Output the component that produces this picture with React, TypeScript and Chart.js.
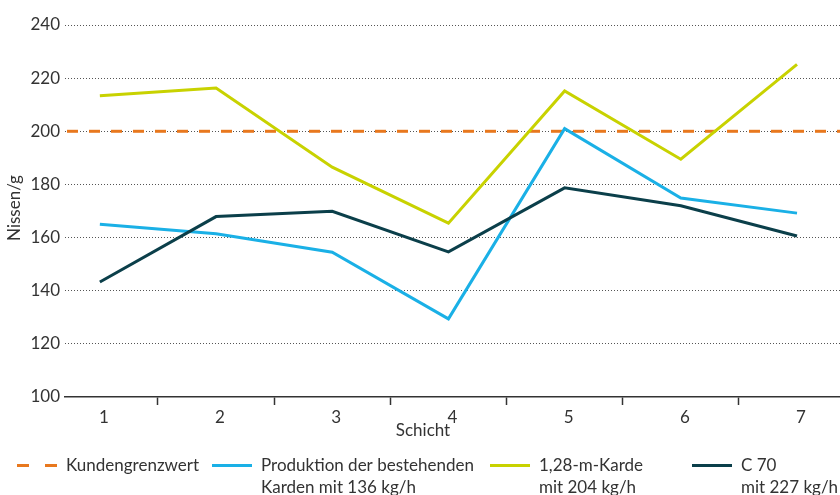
import React, { useEffect, useRef } from "react";
import { Chart, registerables } from "chart.js";

Chart.register(...registerables);

const SHIFTS = [1, 2, 3, 4, 5, 6, 7];
const PRODUKTION = [165, 161.4, 154.5, 129.4, 201, 174.9, 169.2];
const KARDE_128 = [213.4, 216.3, 186.5, 165.4, 215.2, 189.5, 225.2];
const C70 = [143.3, 167.9, 169.9, 154.6, 178.7, 172, 160.6];
const KUNDENGRENZWERT = 200;
const Y_TICKS = [100, 120, 140, 160, 180, 200, 220, 240];
const X_TITLE = "Schicht";
const Y_TITLE = "Nissen/g";
const LEGEND_LABELS = [
  ["Kundengrenzwert"],
  ["Produktion der bestehenden", "Karden mit 136 kg/h"],
  ["1,28-m-Karde", "mit 204 kg/h"],
  ["C 70", "mit 227 kg/h"],
];

const ORANGE = "#E8781E";
const BLUE = "#1AB0E6";
const YELLOW = "#C8D200";
const DARK = "#0B3F4A";
const TEXT = "#333333";
const FONT = "Lato";

export default function App() {
  const ref = useRef<HTMLCanvasElement>(null);

  useEffect(() => {
    document.body.style.margin = "0";
    const canvas = ref.current;
    if (!canvas) return;

    const limitPlugin = {
      id: "limitLine",
      beforeDatasetsDraw(chart: any) {
        const { ctx, chartArea, scales } = chart;
        const y = scales.y.getPixelForValue(KUNDENGRENZWERT);
        ctx.save();
        ctx.strokeStyle = ORANGE;
        ctx.lineWidth = 3;
        ctx.setLineDash([11, 11]);
        ctx.beginPath();
        ctx.moveTo(chartArea.left + 2, y);
        ctx.lineTo(chartArea.right, y);
        ctx.stroke();
        ctx.restore();
      },
    };

    const decorPlugin = {
      id: "decor",
      afterDraw(chart: any) {
        const { ctx } = chart;
        ctx.save();
        ctx.fillStyle = TEXT;
        ctx.font = `17px ${FONT}`;
        ctx.textAlign = "center";
        ctx.textBaseline = "middle";
        ctx.fillText(X_TITLE, 423, 431);
        ctx.save();
        ctx.translate(15, 208);
        ctx.rotate(-Math.PI / 2);
        ctx.fillText(Y_TITLE, 0, 0);
        ctx.restore();

        const colors = [ORANGE, BLUE, YELLOW, DARK];
        const starts = [17, 212, 490, 692];
        const ly = 465.5;
        LEGEND_LABELS.forEach((lines, i) => {
          const x0 = starts[i];
          ctx.strokeStyle = colors[i];
          ctx.lineWidth = 3;
          ctx.setLineDash(i === 0 ? [12, 16] : []);
          ctx.beginPath();
          ctx.moveTo(x0, ly);
          ctx.lineTo(x0 + 40, ly);
          ctx.stroke();
          ctx.setLineDash([]);
          ctx.textAlign = "left";
          lines.forEach((t, j) => {
            ctx.fillText(t, x0 + 49, ly + j * 22);
          });
        });
        ctx.restore();
      },
    };

    const toPts = (vals: number[]) => SHIFTS.map((s, i) => ({ x: s, y: vals[i] }));

    const chart = new Chart(canvas, {
      type: "line",
      data: {
        datasets: [
          { label: "C 70", data: toPts(C70), borderColor: DARK },
          { label: "1,28-m-Karde", data: toPts(KARDE_128), borderColor: YELLOW },
          { label: "Produktion", data: toPts(PRODUKTION), borderColor: BLUE },
        ].map((d) => ({
          ...d,
          borderWidth: 3,
          pointRadius: 0,
          tension: 0,
          fill: false,
        })),
      },
      options: {
        animation: false,
        responsive: true,
        maintainAspectRatio: false,
        layout: { padding: { top: 25, left: 0, right: 0, bottom: 0 } },
        plugins: { legend: { display: false }, tooltip: { enabled: false } },
        scales: {
          x: {
            type: "linear",
            min: 0.7,
            max: 7.37,
            afterBuildTicks: (scale: any) => {
              const t: any[] = [];
              SHIFTS.forEach((s, i) => {
                t.push({ value: s });
                if (i < SHIFTS.length - 1) t.push({ value: s + 0.5 });
              });
              scale.ticks = t;
            },
            afterFit: (scale: any) => {
              scale.height = 98;
            },
            ticks: {
              autoSkip: false,
              maxRotation: 0,
              padding: 2,
              labelOffset: 4,
              color: TEXT,
              font: { family: FONT, size: 17 },
              callback: (v: any) => (Number.isInteger(v) ? String(v) : ""),
            },
            grid: {
              drawOnChartArea: false,
              tickLength: 8,
              tickWidth: 1.5,
              tickColor: (ctx: any) =>
                ctx.tick && Number.isInteger(ctx.tick.value) ? "rgba(0,0,0,0)" : "#333",
            },
            border: { display: true, color: "#333", width: 1.5 },
          },
          y: {
            min: 100,
            max: 240,
            afterBuildTicks: (scale: any) => {
              scale.ticks = Y_TICKS.map((v) => ({ value: v }));
            },
            afterFit: (scale: any) => {
              scale.width = 65;
            },
            ticks: {
              padding: 5,
              color: TEXT,
              font: { family: FONT, size: 17 },
            },
            grid: {
              drawTicks: false,
              lineWidth: 1,
              color: (ctx: any) =>
                ctx.tick && ctx.tick.value === 100 ? "rgba(0,0,0,0)" : "#555",
            },
            border: { display: false, dash: [1, 2] },
          },
        },
      },
      plugins: [limitPlugin, decorPlugin],
    });

    return () => chart.destroy();
  }, []);

  return (
    <div style={{ width: 840, height: 495, position: "relative" }}>
      <canvas ref={ref} />
    </div>
  );
}
